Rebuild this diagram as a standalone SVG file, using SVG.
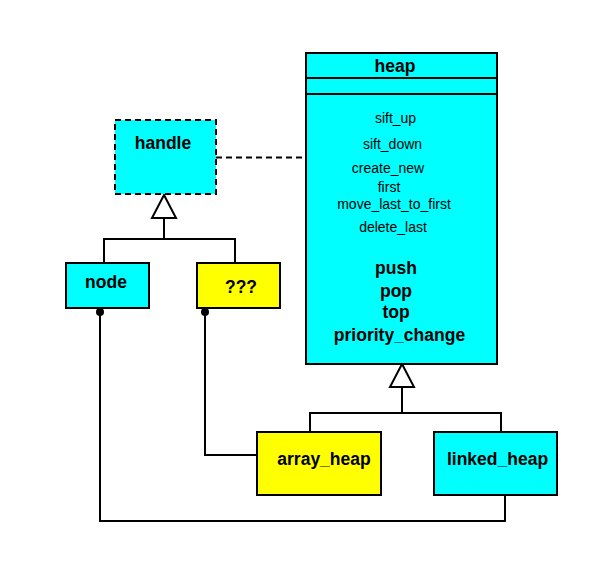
<svg xmlns="http://www.w3.org/2000/svg" width="600" height="561" viewBox="0 0 600 561">
<style>
.box{stroke:#000;stroke-width:2}
.cyan{fill:#00ffff}
.yellow{fill:#ffff00}
.lbl{font-family:"Liberation Sans",Arial,sans-serif;font-weight:bold;font-size:17.5px;text-anchor:middle;fill:#000}
.op{font-family:"Liberation Sans",Arial,sans-serif;font-size:14px;text-anchor:middle;fill:#000}
.ln{fill:none;stroke:#000;stroke-width:2}
.dash{stroke-dasharray:6 4}
.tri{fill:#fff;stroke:#000;stroke-width:2}
</style>
<rect width="600" height="561" fill="#fff"/>
<g id="connectors">
  <line class="ln dash" x1="216" y1="157.5" x2="306" y2="157.5"/>
  <polyline class="ln" points="104,263 104,239 235,239 235,263"/>
  <line class="ln" x1="164" y1="218" x2="164" y2="239"/>
  <polygon class="tri" points="164,195 152,218 176,218"/>
  <polyline class="ln" points="310,432 310,413 501,413 501,432"/>
  <line class="ln" x1="402" y1="387" x2="402" y2="413"/>
  <polygon class="tri" points="402,364 390,387 414,387"/>
  <polyline class="ln" points="100,312 100,521 505,521 505,495"/>
  <circle cx="100" cy="312" r="4" fill="#000"/>
  <polyline class="ln" points="205,312 205,455 257,455"/>
  <circle cx="205" cy="312" r="4" fill="#000"/>
</g>
<g id="heap">
  <rect class="box cyan" x="306" y="53" width="191" height="311"/>
  <line class="ln" x1="306" y1="78" x2="497" y2="78"/>
  <line class="ln" x1="306" y1="94" x2="497" y2="94"/>
  <text class="lbl" x="395" y="72">heap</text>
  <text class="op" x="395.5" y="123">sift_up</text>
  <text class="op" x="392.5" y="149">sift_down</text>
  <text class="op" x="388" y="173">create_new</text>
  <text class="op" x="389" y="192">first</text>
  <text class="op" x="394" y="209">move_last_to_first</text>
  <text class="op" x="393" y="232">delete_last</text>
  <text class="lbl" x="396" y="274">push</text>
  <text class="lbl" x="396" y="297">pop</text>
  <text class="lbl" x="396" y="318">top</text>
  <text class="lbl" x="399.5" y="341">priority_change</text>
</g>
<g id="handle">
  <rect class="box cyan dash" x="115" y="120" width="101" height="74"/>
  <text class="lbl" x="163" y="149">handle</text>
</g>
<g id="node">
  <rect class="box cyan" x="66" y="263" width="83" height="45"/>
  <text class="lbl" x="106" y="288">node</text>
</g>
<g id="unknown">
  <rect class="box yellow" x="197" y="263" width="83" height="45"/>
  <text class="lbl" x="241" y="293">???</text>
</g>
<g id="array_heap">
  <rect class="box yellow" x="257" y="432" width="124" height="63"/>
  <text class="lbl" x="324" y="465">array_heap</text>
</g>
<g id="linked_heap">
  <rect class="box cyan" x="434" y="432" width="123" height="63"/>
  <text class="lbl" x="497.5" y="465">linked_heap</text>
</g>
</svg>
